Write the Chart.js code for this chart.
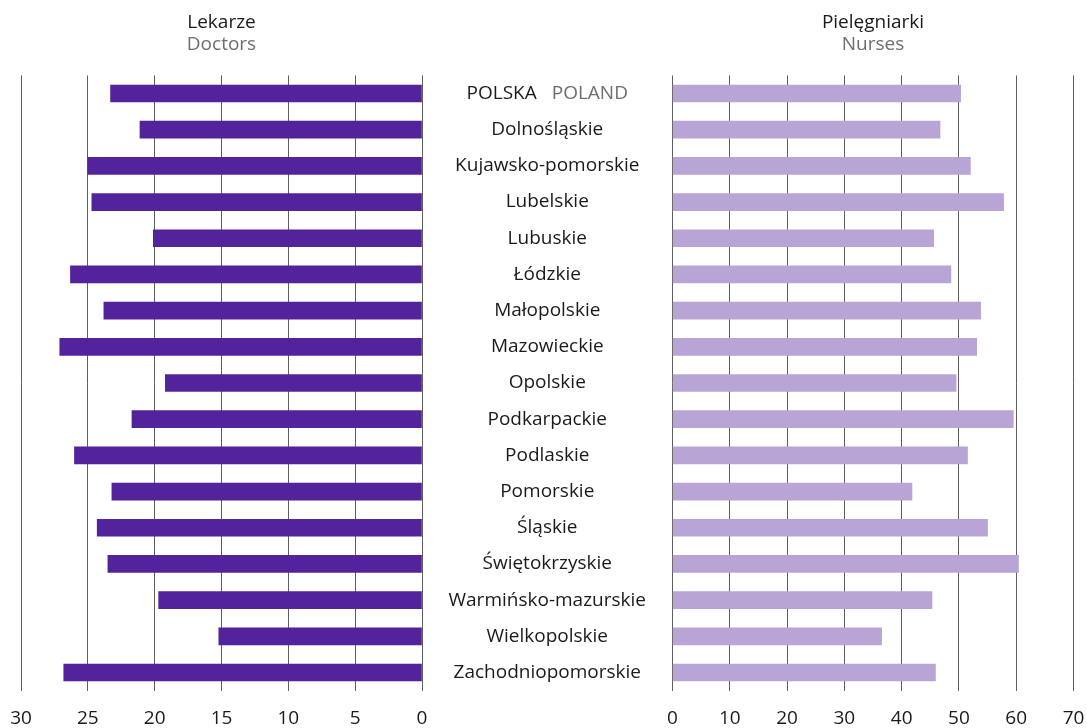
<!DOCTYPE html>
<html>
<head>
<meta charset="utf-8">
<script src="https://cdn.jsdelivr.net/npm/chart.js@4/dist/chart.umd.min.js"></script>
<style>
  html, body { margin: 0; padding: 0; background: #fff; }
  #wrap { position: relative; width: 1087px; height: 728px; }
  #leftBox { position: absolute; left: 0; top: 0; width: 450px; height: 728px; }
  #rightBox { position: absolute; left: 422px; top: 0; width: 665px; height: 728px; }
</style>
</head>
<body>
<div id="wrap">
  <div id="leftBox"><canvas id="cLeft"></canvas></div>
  <div id="rightBox"><canvas id="cRight"></canvas></div>
</div>
<script>
const categories = [
  "POLSKA", "Dolnośląskie", "Kujawsko-pomorskie", "Lubelskie", "Lubuskie", "Łódzkie",
  "Małopolskie", "Mazowieckie", "Opolskie", "Podkarpackie", "Podlaskie", "Pomorskie",
  "Śląskie", "Świętokrzyskie", "Warmińsko-mazurskie", "Wielkopolskie", "Zachodniopomorskie"
];
const polandEnglish = "POLAND";
const doctors = [23.3, 21.1, 25.0, 24.7, 20.1, 26.3, 23.8, 27.1, 19.2, 21.7, 26.0, 23.2, 24.3, 23.5, 19.7, 15.2, 26.8];
const nurses  = [50.3, 46.7, 52.0, 57.8, 45.6, 48.6, 53.8, 53.1, 49.5, 59.5, 51.5, 41.8, 55.0, 60.4, 45.3, 36.5, 45.9];
const leftTitle = ["Lekarze", "Doctors"];
const rightTitle = ["Pielęgniarki", "Nurses"];
const leftTicks = { min: 0, max: 30, step: 5 };
const rightTicks = { min: 0, max: 70, step: 10 };

const FONT = "'Open Sans', 'DejaVu Sans', sans-serif";
const FS = 19;
const DARK = '#1a1a1a';
const GREY = '#6d6e71';
const GRID = '#5e5e5e';

function makeOptions(titleArr, ticksCfg, reverse, padding) {
  return {
    indexAxis: 'y',
    responsive: true,
    maintainAspectRatio: false,
    animation: false,
    layout: { padding: padding },
    plugins: {
      legend: { display: false },
      tooltip: { enabled: false },
      title: {
        display: true, text: titleArr[0], color: DARK,
        font: { family: FONT, size: FS, weight: 'normal', lineHeight: 1.1 },
        padding: { top: 12, bottom: 0 }
      },
      subtitle: {
        display: true, text: titleArr[1], color: GREY,
        font: { family: FONT, size: FS, weight: 'normal', lineHeight: 1.1 },
        padding: { top: 1, bottom: 20.6 }
      }
    },
    scales: {
      x: {
        reverse: reverse,
        min: ticksCfg.min, max: ticksCfg.max,
        border: { display: false },
        grid: { color: GRID, lineWidth: 1, drawTicks: true, tickLength: 18, tickColor: 'rgba(0,0,0,0)' },
        ticks: {
          stepSize: ticksCfg.step, color: DARK, padding: 0,
          font: { family: FONT, size: FS, lineHeight: 1.0 }, maxRotation: 0, autoSkip: false
        },
        afterFit: (s) => { s.height = 37.4; }
      },
      y: { display: false }
    }
  };
}

const leftChart = new Chart(document.getElementById('cLeft'), {
  type: 'bar',
  data: {
    labels: categories,
    datasets: [{ data: doctors, backgroundColor: '#52239a', barThickness: 17, borderWidth: 0 }]
  },
  options: makeOptions(leftTitle, leftTicks, true, { left: 21, right: 28, top: 0, bottom: 0 })
});

const centerLabels = {
  id: 'centerLabels',
  afterDraw(chart) {
    const ctx = chart.ctx;
    const ys = chart.scales.y;
    const cx = chart.chartArea.left / 2;
    ctx.save();
    ctx.font = FS + 'px ' + FONT;
    ctx.textBaseline = 'middle';
    categories.forEach((lab, i) => {
      const y = ys.getPixelForValue(i);
      if (i === 0) {
        const gap = 15;
        const w1 = ctx.measureText(lab).width;
        const w2 = ctx.measureText(polandEnglish).width;
        const start = cx - (w1 + gap + w2) / 2;
        ctx.textAlign = 'left';
        ctx.fillStyle = DARK;
        ctx.fillText(lab, start, y);
        ctx.fillStyle = GREY;
        ctx.fillText(polandEnglish, start + w1 + gap, y);
      } else {
        ctx.textAlign = 'center';
        ctx.fillStyle = DARK;
        ctx.fillText(lab, cx, y);
      }
    });
    ctx.restore();
  }
};

const rightChart = new Chart(document.getElementById('cRight'), {
  type: 'bar',
  data: {
    labels: categories,
    datasets: [{ data: nurses, backgroundColor: '#b9a5d5', barThickness: 17, borderWidth: 0 }]
  },
  options: makeOptions(rightTitle, rightTicks, false, { left: 250.5, right: 13.5, top: 0, bottom: 0 }),
  plugins: [centerLabels]
});
</script>
</body>
</html>
